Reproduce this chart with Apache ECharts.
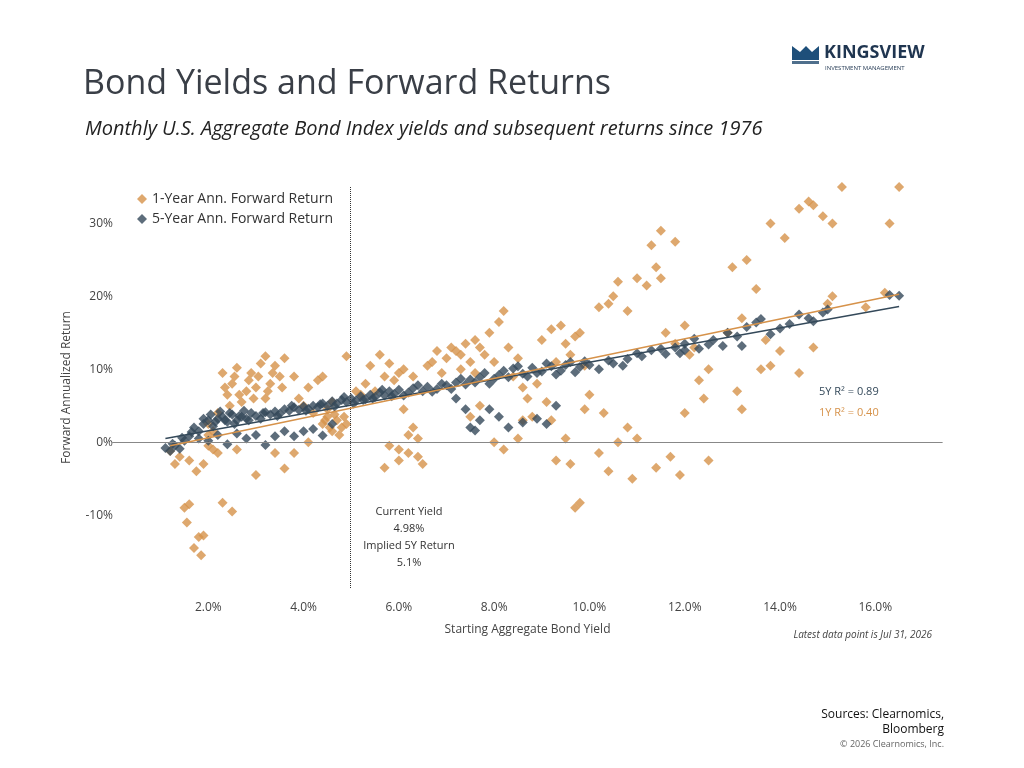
<!DOCTYPE html>
<html lang="en">
<head>
    <meta charset="UTF-8">
    <title>Bond Yields and Forward Returns</title>
    <script src="https://cdn.jsdelivr.net/npm/echarts/dist/echarts.min.js"></script>
    <style>
        body { margin: 0; background: #fff; }
        #main { width: 1024px; height: 768px; }
    </style>
</head>
<body>
    <div id="main"></div>
    <script>
        // [starting yield %, forward annualized return %]
        var fiveYear = [
            [1.1,-0.8],[1.2,-1.2],[1.3,-0.5],[1.4,-0.9],[1.5,0.2],[1.6,0.8],[1.7,2.0],[1.8,1.5],[1.9,2.5],[2.0,3.0],
            [2.1,2.2],[2.2,3.2],[2.3,3.5],[2.4,2.8],[2.5,3.8],[2.6,3.0],[2.7,3.5],[2.8,3.2],[2.9,4.0],[3.0,3.6],
            [3.1,3.2],[3.2,4.1],[3.3,3.8],[3.4,4.2],[3.5,3.9],[3.6,4.5],[3.7,4.3],[3.8,4.8],[3.9,4.4],[4.0,4.9],
            [4.1,4.6],[4.2,5.0],[4.3,4.8],[4.4,5.3],[4.5,5.0],[4.6,5.6],[4.7,5.3],[4.8,5.8],[4.9,5.5],[5.0,6.0],
            [5.1,5.7],[5.2,6.3],[5.3,5.9],[5.4,6.5],[5.5,6.2],[5.6,6.8],[5.7,6.4],[5.8,7.0],[5.9,6.6],[6.0,7.2],
            [6.2,6.8],[6.3,7.4],[6.5,7.0],[6.6,7.6],[6.8,7.3],[7.0,7.8],[7.2,8.2],[7.4,7.9],[7.5,8.6],[7.7,8.9],
            [7.8,9.5],[8.0,8.7],[8.2,9.8],[8.4,10.1],[8.6,9.4],[8.8,10.2],[9.0,9.7],[9.2,10.4],[9.4,9.8],[9.6,11.0],
            [9.8,10.3],[10.0,10.6],[10.2,10.0],[10.5,10.8],[10.8,11.4],[11.0,12.2],[11.3,12.6],[11.6,12.1],[11.8,13.0],[12.0,12.6],
            [12.2,14.2],[12.5,13.4],[12.8,13.2],[13.1,14.5],[13.3,15.8],[13.5,16.4],[13.8,14.8],[14.0,15.6],[14.2,16.2],[14.4,17.5],
            [14.6,17.0],[14.9,17.8],[15.0,18.2],[16.3,20.2],[16.5,20.1],[13.6,16.9],[12.9,15.0],[14.7,16.6],[13.2,13.2],[12.0,13.5],
            [1.8,0.5],[2.0,0.2],[2.2,1.0],[2.4,-0.3],[2.6,1.2],[2.8,0.5],[3.0,1.0],[3.2,-0.4],[3.4,0.8],[3.6,1.5],
            [3.8,0.8],[4.0,1.5],[4.2,1.8],[4.4,0.9],[4.6,2.5],[7.5,2.0],[7.7,3.0],[7.9,4.5],[8.1,3.5],[8.3,2.0],
            [8.6,2.7],[8.9,3.2],[9.1,2.5],[9.3,5.0],[7.6,1.6],[7.4,4.5],[7.2,6.0],
            [1.9,3.2],[2.05,3.8],[2.15,2.8],[2.25,4.2],[2.35,3.0],[2.45,4.0],[2.55,2.5],[2.65,3.6],[2.75,4.3],[2.85,3.0],
            [3.15,4.0],[3.45,3.6],[3.75,5.0],[4.05,4.3],[4.35,5.2],[4.65,4.9],[4.85,6.2],[5.05,5.3],[5.25,5.8],[5.45,6.0],
            [5.65,7.2],[5.85,6.3],[6.1,6.4],[6.4,7.8],[6.7,6.9],[6.9,8.0],[7.1,7.3],[7.3,8.7],[7.6,8.2],[7.9,8.0],
            [8.1,9.2],[8.3,8.9],[8.5,10.4],[8.7,9.0],[8.9,9.5],[9.1,10.8],[9.3,9.3],[9.5,10.6],[9.7,9.6],[9.9,11.1],
            [10.4,11.2],[10.7,10.5],[11.1,11.8],[11.5,12.8],[11.9,12.2],[12.3,12.8],[12.6,14.0],[1.25,-0.2],[1.45,0.6],[1.65,1.4]
        ];
        var oneYear = [
            [1.2,-1.2],[1.3,-3],[1.4,-2],[1.5,-9],[1.55,-11],[1.6,-8.5],[1.7,-14.5],[1.8,-13],[1.85,-15.5],[1.9,-12.8],
            [1.75,-4],[1.9,-3],[2.0,-0.5],[2.1,1.5],[2.2,-1.5],[2.3,-8.3],[2.5,-9.5],[2.4,6.5],[2.5,8.0],[2.3,9.5],
            [2.6,10.2],[2.8,7.0],[2.9,9.5],[3.0,7.5],[3.1,10.8],[3.2,11.8],[3.3,8.0],[3.4,10.5],[3.5,9.0],[3.6,11.5],
            [3.2,6.0],[2.7,5.5],[3.0,-4.5],[2.2,4.0],[2.0,2.5],[2.6,-1.0],[3.4,-1.5],[3.6,-3.6],[3.8,9.0],[3.9,6.0],
            [4.0,5.0],[4.1,7.5],[4.2,4.0],[4.3,8.5],[4.4,2.5],[4.5,3.5],[4.6,1.5],[4.7,3.0],[4.8,2.0],[4.9,2.5],
            [4.6,5.5],[4.9,11.8],[4.4,9.0],[3.8,-1.5],[4.1,0.0],[5.2,6.5],[5.4,10.5],[5.5,7.0],[5.6,12.0],[5.7,9.0],
            [5.8,10.8],[6.0,9.5],[6.1,4.5],[6.3,2.0],[6.2,-1.5],[6.5,-3.0],[6.0,-2.5],[5.8,-0.5],[5.7,-3.5],[6.4,0.5],
            [6.6,10.5],[6.7,11.0],[6.9,9.5],[7.0,11.5],[7.2,12.5],[7.3,10.0],[7.4,13.5],[7.6,14.0],[7.8,12.0],[7.9,15.0],
            [8.1,16.5],[8.2,18.0],[8.3,13.0],[8.4,9.0],[8.5,11.5],[8.6,7.5],[8.7,6.0],[8.8,3.5],[9.0,14.0],[9.2,15.5],
            [9.4,16.0],[9.6,12.0],[9.7,14.5],[9.9,10.5],[10.2,18.5],[10.4,19.0],[10.5,20.0],[10.6,22.0],[10.8,18.0],[11.0,22.5],
            [11.2,21.5],[11.4,24.0],[11.5,22.5],[11.3,27.0],[11.5,29.0],[11.8,27.5],[11.6,15.0],[11.8,13.5],[12.1,12.0],[12.2,13.0],
            [12.3,8.5],[12.4,6.0],[12.5,10.0],[13.0,24.0],[13.3,25.0],[12.9,15.0],[13.2,17.0],[13.5,21.0],[13.8,30.0],[14.1,28.0],
            [14.4,32.0],[14.6,33.0],[14.7,32.5],[14.9,31.0],[15.1,30.0],[15.3,35.0],[15.1,20.0],[14.4,9.5],[14.7,13.0],[13.6,10.0],
            [13.8,10.5],[14.0,12.5],[13.1,7.0],[13.2,4.5],[12.0,4.0],[11.7,-2.0],[12.5,-2.5],[11.4,-3.5],[11.0,0.5],[10.9,-5.0],
            [10.4,-4.0],[10.2,-1.5],[9.7,-9.0],[9.8,-8.3],[9.6,-3.0],[9.3,-2.5],[9.5,0.5],[9.2,3.0],[8.5,0.5],[8.0,0.0],
            [8.2,-1.0],[7.7,5.0],[7.5,3.5],[10.0,6.5],[10.3,4.0],[10.6,0.0],[10.8,2.0],[9.9,4.5],[11.9,-4.5],[16.3,30.0],
            [16.5,35.0],[15.8,18.5],[16.2,20.5],[15.0,19.0],[13.7,14.0],[12.0,16.0],
            [2.35,7.5],[2.45,5.0],[2.55,9.0],[2.65,6.5],[2.85,8.5],[2.95,6.0],[3.05,9.0],[3.25,7.0],[3.35,9.5],[3.55,7.5],
            [4.45,3.0],[4.55,2.0],[4.65,3.8],[4.75,1.0],[4.85,3.5],[4.5,4.5],[5.1,7.0],[5.3,8.0],[5.9,8.5],[6.1,10.0],
            [6.3,9.0],[6.8,12.5],[7.1,13.0],[7.3,12.0],[7.5,11.0],[7.7,13.0],[7.6,9.5],[8.0,11.0],[6.2,1.0],[6.0,-1.0],
            [6.4,-2.0],[8.6,3.0],[8.9,8.0],[9.1,5.5],[9.3,11.0],[9.5,13.5],[9.8,15.0],[2.1,-1.0],[1.6,-2.5],[2.0,1.0]
        ];
        var fitOneYear = [[1.2,-0.5],[16.5,20.3]];
        var fitFiveYear = [[1.1,0.5],[16.5,18.6]];
        var currentYield = 4.98;

        var orange = '#D6924A';
        var navy = '#34495A';
        var font = '"Open Sans", "Noto Sans", sans-serif';

        var chart = echarts.init(document.getElementById('main'));
        var option = {
            backgroundColor: '#fff',
            textStyle: { fontFamily: font },
            animation: false,
            title: [
                { text: 'Bond Yields and Forward Returns', left: 78, top: 62,
                  textStyle: { fontSize: 34, fontWeight: 'normal', color: '#3A3F47', fontFamily: font } },
                { text: 'Monthly U.S. Aggregate Bond Index yields and subsequent returns since 1976', left: 80, top: 114,
                  textStyle: { fontSize: 20, fontStyle: 'italic', fontWeight: 'normal', color: '#222', fontFamily: font } }
            ],
            legend: {
                left: 132, top: 187, orient: 'vertical', itemGap: 6,
                itemWidth: 10, itemHeight: 10,
                textStyle: { fontSize: 14, color: '#333' },
                data: ['1-Year Ann. Forward Return', '5-Year Ann. Forward Return']
            },
            grid: { left: 113, right: 82, top: 187, bottom: 180 },
            xAxis: {
                type: 'value', min: 0, max: 17.4, interval: 2,
                name: 'Starting Aggregate Bond Yield', nameLocation: 'middle', nameGap: 36,
                nameTextStyle: { fontSize: 12, color: '#444' },
                axisLine: { lineStyle: { color: '#444' } },
                axisTick: { show: false },
                splitLine: { show: false },
                axisLabel: { fontSize: 12, color: '#444', margin: 14, showMaxLabel: false,
                    formatter: function (v) { return v === 0 ? '' : v.toFixed(1) + '%'; } }
            },
            yAxis: {
                type: 'value', min: -20, max: 35, interval: 10,
                name: 'Forward Annualized Return', nameLocation: 'middle', nameGap: 40,
                nameTextStyle: { fontSize: 12, color: '#444' },
                axisLine: { show: false }, axisTick: { show: false },
                splitLine: { show: false },
                axisLabel: { fontSize: 12, color: '#444', margin: 0, showMaxLabel: false,
                    formatter: function (v) { return v <= -20 || v > 30 ? '' : v + '%'; } }
            },
            series: [
                {
                    name: '1-Year Ann. Forward Return', type: 'scatter', symbol: 'diamond', symbolSize: 10,
                    itemStyle: { color: orange }, data: oneYear, z: 2,
                    markLine: {
                        silent: true, symbol: 'none', label: { show: false },
                        data: [
                            { yAxis: 0, lineStyle: { color: '#888', type: 'solid', width: 1.2 } },
                            { xAxis: currentYield, lineStyle: { color: '#333', type: 'dotted', width: 1 } }
                        ]
                    }
                },
                {
                    name: '5-Year Ann. Forward Return', type: 'scatter', symbol: 'diamond', symbolSize: 10,
                    itemStyle: { color: navy }, data: fiveYear, z: 3
                },
                { type: 'line', data: fitFiveYear, symbol: 'none', lineStyle: { color: navy, width: 1.5 }, z: 4 },
                { type: 'line', data: fitOneYear, symbol: 'none', lineStyle: { color: orange, width: 1.5 }, z: 5 }
            ],
            graphic: [
                { type: 'group', left: 792, top: 44, children: [
                    { type: 'polygon', shape: { points: [[0,0],[8,6],[14,0],[20,6],[27,0],[27,14],[0,14]] }, style: { fill: '#1E4F7A' } },
                    { type: 'rect', shape: { x: 0, y: 15, width: 27, height: 3 }, style: { fill: '#4F6F8C' } },
                    { type: 'text', x: 32, y: -2, style: { text: 'KINGSVIEW', fontSize: 18, fontWeight: 'bold', fill: '#1F3550', fontFamily: font } },
                    { type: 'text', x: 33, y: 19, style: { text: 'INVESTMENT MANAGEMENT', fontSize: 6, fill: '#1F3550', fontFamily: font } }
                ]},
                { type: 'text', x: 409, y: 503, style: { text: 'Current Yield\n4.98%\nImplied 5Y Return\n5.1%', align: 'center', fontSize: 11, lineHeight: 17, fill: '#333', fontFamily: font } },
                { type: 'text', left: 819, top: 386, style: { text: '5Y R² = 0.89', fontSize: 11, fill: navy, fontFamily: font } },
                { type: 'text', left: 819, top: 407, style: { text: '1Y R² = 0.40', fontSize: 11, fill: orange, fontFamily: font } },
                { type: 'text', right: 92, top: 630, style: { text: 'Latest data point is Jul 31, 2026', fontSize: 10, fontStyle: 'italic', fill: '#444', fontFamily: font } },
                { type: 'text', x: 944, y: 707, style: { text: 'Sources: Clearnomics,\nBloomberg', align: 'right', fontSize: 12, lineHeight: 15, fill: '#111', fontFamily: font } },
                { type: 'text', right: 80, top: 740, style: { text: '© 2026 Clearnomics, Inc.', fontSize: 9, fill: '#666', fontFamily: font } }
            ]
        };
        chart.setOption(option);
    </script>
</body>
</html>
